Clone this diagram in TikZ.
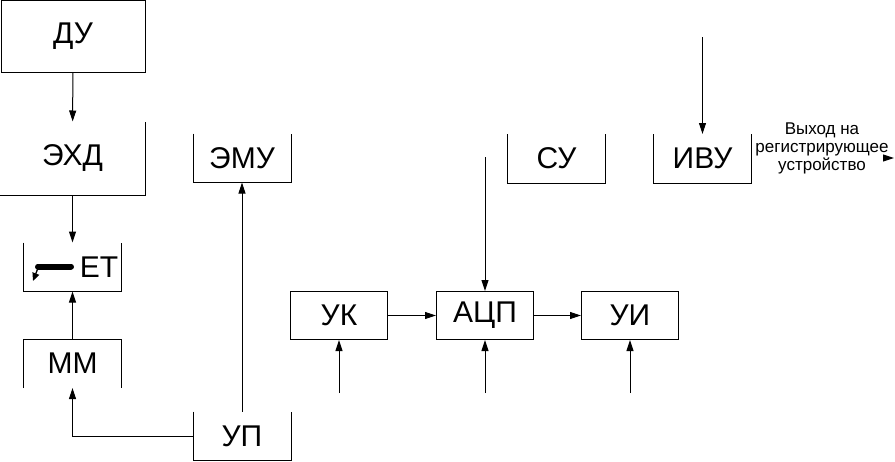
\documentclass[tikz,border=0pt]{standalone}
\usepackage{fontspec}
\setmainfont{Liberation Sans}
\usetikzlibrary{arrows.meta,positioning}

\begin{document}
\begin{tikzpicture}[x=1pt,y=-1pt,line width=1pt,
  blk/.style={minimum width=97pt,minimum height=48pt,inner sep=0pt,
              font=\fontsize{30}{32}\selectfont},
  wire/.style={-{Triangle[length=11pt,width=7pt]}},
  note/.style={font=\fontsize{17}{18}\selectfont,align=center,inner sep=0pt}
]
\useasboundingbox (0,0) rectangle (895,461);

% ---- Left column --------------------------------------------
\node[blk,draw,minimum width=144pt,minimum height=72pt] (du) at (73,36) {ДУ};
\node[blk,minimum width=145pt,minimum height=73pt] (ehd) at (72.5,158.5) {ЭХД};
\node[blk] (et)  at (72.5,267)   {};
\node[blk] (mm)  at (72.5,363.5) {ММ};
\node[font=\fontsize{30}{32}\selectfont,inner sep=0pt] (etlbl) at (99,267) {ЕТ};

% ---- Middle column ------------------------------------------
\node[blk] (emu) at (242,158) {ЭМУ};
\node[blk] (up)  at (242,436) {УП};

% ---- Measuring chain ----------------------------------------
\node[blk,draw] (uk)  at (339,315.5) {УК};
\node[blk,draw] (acp) at (485,315.5) {АЦП};
\node[blk,draw] (ui)  at (630,315.5) {УИ};

% ---- Top right ----------------------------------------------
\node[blk] (su)  at (556.5,158.5) {СУ};
\node[blk] (ivu) at (702.5,158.5) {ИВУ};
\node[note] (out) at (822,148) {Выход на\\регистрирующее\\устройство};

% open box outlines
\draw (ehd.north west) -- (ehd.south west) -- (ehd.south east) -- (ehd.north east);
\draw (et.north west) -- (et.south west) -- (et.south east) -- (et.north east);
\draw (mm.south west) -- (mm.north west) -- (mm.north east) -- (mm.south east);
\draw (emu.north west) -- (emu.south west) -- (emu.south east) -- (emu.north east);
\draw (up.north west) -- (up.south west) -- (up.south east) -- (up.north east);
\draw (su.north west) -- (su.south west) -- (su.south east) -- (su.north east);
\draw (ivu.north west) -- (ivu.south west) -- (ivu.south east) -- (ivu.north east);

% symbol in ET
\draw[line width=6pt,line cap=round] (38,266.5) -- (71,266.5);
\draw[line width=1.3pt,-{Triangle[length=8pt,width=7pt]}] (38,268) -- (33,281);

% free ends
\coordinate (suin)  at (485,157);
\coordinate (ivuin) at (702.5,37);
\coordinate (ukin)  at (339,393);
\coordinate (acpin) at (485,393);
\coordinate (uiin)  at (630,393);
\coordinate (exit)  at (894,158);

% connectors
\draw[wire] (du) -- (ehd);
\draw[wire] (ehd) -- (et);
\draw[wire] (mm) -- (et);
\draw[wire] (up.west) -| (mm.south);
\draw[wire] (up.north) -- (emu.south);
\draw[wire] (suin) -- (acp.north);
\draw[wire] (uk) -- (acp);
\draw[wire] (acp) -- (ui);
\draw[wire] (ukin) -- (uk.south);
\draw[wire] (acpin) -- (acp.south);
\draw[wire] (uiin) -- (ui.south);
\draw[wire] (ivuin) -- (ivu.north);
\draw[wire] (out.east |- exit) -- (exit);

\end{tikzpicture}
\end{document}
